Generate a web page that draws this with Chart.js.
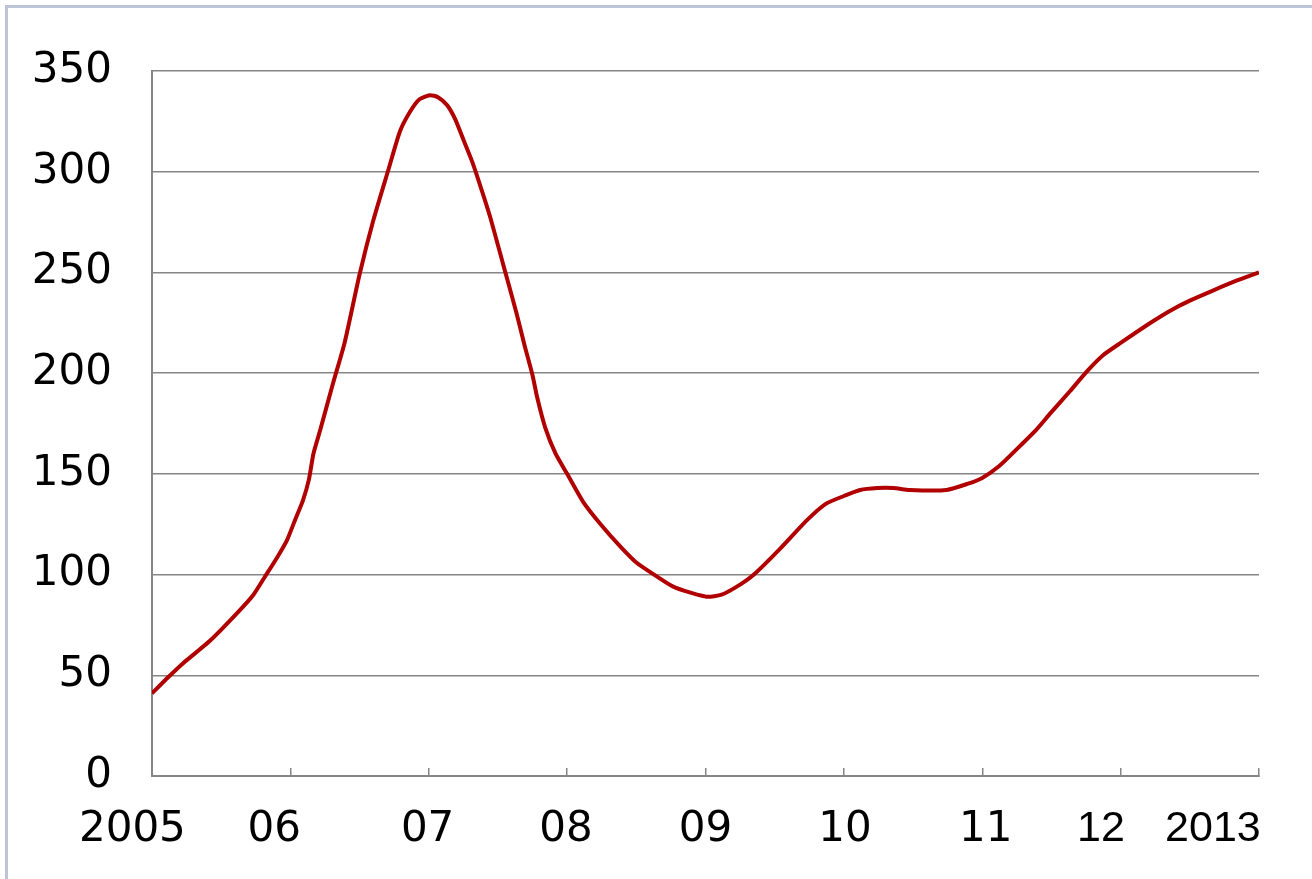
<!DOCTYPE html>
<html>
<head>
    <meta charset="utf-8">
    <title>Index 2005-2013</title>
    <style>
        body {
            margin: 0;
            background: white;
            overflow: hidden;
        }
        .frame {
            position: absolute;
            left: 5px;
            top: 5px;
            width: 1400px;
            height: 1000px;
            border: 3px solid #bcc4d6;
        }
        canvas {
            position: absolute;
            left: 0;
            top: 0;
        }
    </style>
    <script src="https://cdn.jsdelivr.net/npm/chart.js@4.4.1/dist/chart.umd.min.js"></script>
</head>
<body>
    <div class="frame"></div>
    <canvas id="chart" width="1312" height="879"></canvas>
    <script>
        // months since Jan 2005
        const months = [0, 1.4, 2.7, 5.0, 7.4, 8.8, 9.8, 10.8, 11.7, 12.4, 13.1, 13.6, 14.0,
            14.6, 15.7, 16.7, 18.0, 19.2, 20.5, 21.5, 22.4, 23.2, 24.1, 24.8, 25.6, 26.3,
            27.0, 27.7, 28.3, 29.3, 30.5, 31.6, 32.3, 33.0, 33.4, 34.1, 35.0, 36.0, 37.4, 38.9,
            40.6, 42.0, 43.8, 45.2, 46.7, 48.1, 49.4, 51.0, 52.2, 54.5, 56.8, 58.4, 60.0,
            61.4, 62.9, 64.3, 65.7, 68.9, 70.7, 72.0, 73.5, 75.3, 76.7, 77.9, 79.6, 81.1,
            82.5, 84.0, 86.6, 88.3, 90.0, 92.0, 94.1, 96.0];
        const values = [41, 49, 56, 67, 81, 90, 99, 108, 117, 127, 137, 147, 160,
            172, 195, 215, 249, 276, 301, 320, 330, 336, 338, 337, 333, 326,
            316, 306, 296, 278, 253, 230, 214, 199, 188, 173, 160, 150, 136, 125,
            114, 106, 99, 94, 91, 89, 90, 95, 100, 113, 127, 135, 139,
            142, 143, 143, 142, 142, 145, 148, 154, 164, 172, 180, 191, 201,
            209, 215, 225, 231, 236, 241, 246, 250];

        const yTicks = [0, 50, 100, 150, 200, 250, 300, 350];
        const xLabels = ['2005', '06', '07', '08', '09', '10', '11', '12', '2013'];
        const xLabelAt = [-1.7, 10.6, 23.9, 35.9, 48.0, 60.1, 72.3, 82.3, 92.0];

        // year labels sit slightly off their tick marks, as in the source
        const xLabelPlugin = {
            id: 'xLabels',
            afterDraw(chart) {
                const ctx = chart.ctx;
                const x = chart.scales.x;
                ctx.save();
                ctx.fillStyle = '#000';
                ctx.textAlign = 'center';
                ctx.textBaseline = 'alphabetic';
                xLabels.forEach((t, i) => {
                    ctx.font = i < 7 ? '42px "DejaVu Sans"' : '43px "Liberation Sans"';
                    ctx.fillText(t, x.getPixelForValue(xLabelAt[i]), chart.chartArea.bottom + 65);
                });
                ctx.restore();
            }
        };

        new Chart(document.getElementById('chart'), {
            type: 'line',
            data: {
                datasets: [{
                    data: months.map((m, i) => ({ x: m, y: values[i] })),
                    borderColor: '#b00000',
                    borderWidth: 4,
                    pointRadius: 0,
                    tension: 0.2,
                    fill: false
                }]
            },
            options: {
                responsive: false,
                animation: false,
                devicePixelRatio: 1,
                layout: { padding: { top: 71, right: 53, bottom: 0, left: 0 } },
                plugins: {
                    legend: { display: false },
                    tooltip: { enabled: false }
                },
                scales: {
                    x: {
                        type: 'linear',
                        min: 0,
                        max: 96,
                        afterBuildTicks: s => { s.ticks = [0, 12, 24, 36, 48, 60, 72, 84, 96].map(v => ({ value: v })); },
                        afterFit: s => { s.height = 103; },
                        ticks: { display: false },
                        grid: {
                            drawOnChartArea: false,
                            tickLength: -8,
                            color: '#868686',
                            lineWidth: 1.5
                        },
                        border: { color: '#868686', width: 2 }
                    },
                    y: {
                        min: 0,
                        max: 350,
                        afterBuildTicks: s => { s.ticks = yTicks.map(v => ({ value: v })); },
                        afterFit: s => { s.width = 152; },
                        ticks: {
                            padding: 40,
                            color: '#000',
                            font: { family: '"DejaVu Sans"', size: 42 }
                        },
                        grid: {
                            drawTicks: false,
                            color: '#868686',
                            lineWidth: 1.5
                        },
                        border: { color: '#868686', width: 2 }
                    }
                }
            },
            plugins: [xLabelPlugin]
        });
    </script>
</body>
</html>
